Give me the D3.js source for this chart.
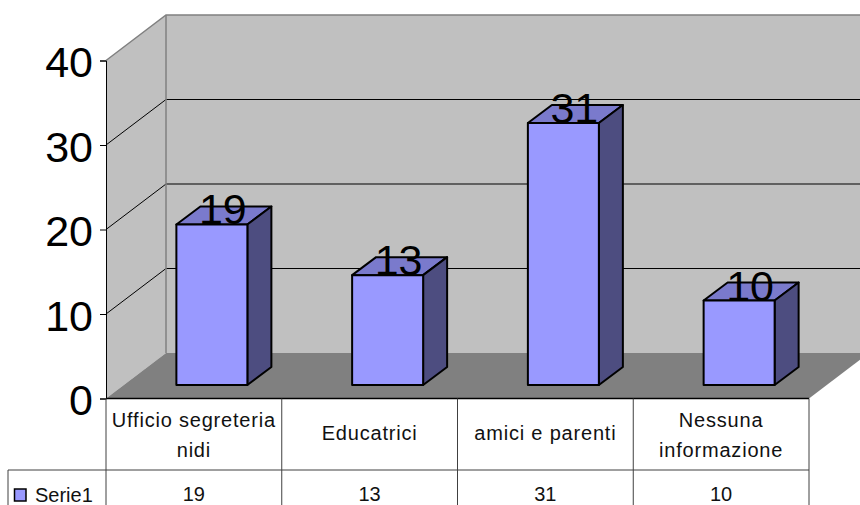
<!DOCTYPE html>
<html>
<head>
<meta charset="utf-8">
<script src="https://cdn.jsdelivr.net/npm/d3@7"></script>
<style>
  html, body { margin: 0; padding: 0; background: #fff; }
  svg { display: block; font-family: "Liberation Sans", Arial, sans-serif; }
</style>
</head>
<body>
<div id="chart"></div>
<script>
const categories = ['Ufficio segreteria nidi', 'Educatrici', 'amici e parenti', 'Nessuna informazione'];
const categoryLines = [['Ufficio segreteria', 'nidi'], ['Educatrici'], ['amici e parenti'], ['Nessuna', 'informazione']];
const seriesName = 'Serie1';
const values = [19, 13, 31, 10];
const yTicks = [0, 10, 20, 30, 40];

const width = 860, height = 505;
const svg = d3.select('#chart').append('svg').attr('width', width).attr('height', height);

// Front plane scales; the depth vector shifts things onto the back wall.
const x = d3.scaleBand().domain(categories).range([106, 809]);
const y = d3.scaleLinear().domain([0, 40]).range([398.5, 60.5]);
const wall = { dx: 60, dy: -45.5 };
const barDepth = { dx: 24, dy: -18 };
const barInset = { dx: 18, dy: -13.5 };
const barW = 71;

const pts = a => a.map(p => p.join(',')).join(' ');
const x0 = x.range()[0], x1 = x.range()[1];
const yBot = y(0), yTop = y(40);

// Walls and floor
svg.append('polygon').attr('fill', '#c0c0c0').attr('points', pts([
  [x0, yBot], [x0, yTop], [x0 + wall.dx, yTop + wall.dy], [x1 + wall.dx, yTop + wall.dy],
  [x1 + wall.dx, yBot + wall.dy], [x0 + wall.dx, yBot + wall.dy]
]));
svg.append('polygon').attr('fill', '#808080').attr('points', pts([
  [x0, yBot], [x0 + wall.dx, yBot + wall.dy], [x1 + wall.dx, yBot + wall.dy], [x1, yBot]
]));

// Gridlines along side wall and back wall
const grid = svg.append('g');
yTicks.slice(1, -1).forEach(t => {
  grid.append('polyline').attr('fill', 'none').attr('stroke', '#000').attr('stroke-width', 1)
    .attr('points', pts([[x0, y(t)], [x0 + wall.dx, y(t) + wall.dy], [x1 + wall.dx, y(t) + wall.dy]]));
});

// Wall outline
svg.append('polyline').attr('fill', 'none').attr('stroke', '#808080').attr('stroke-width', 1.5)
  .attr('points', pts([[x0, yTop], [x0 + wall.dx, yTop + wall.dy], [x1 + wall.dx, yTop + wall.dy]]));
svg.append('line').attr('stroke', '#808080').attr('stroke-width', 1.5)
  .attr('x1', x0 + wall.dx).attr('x2', x0 + wall.dx)
  .attr('y1', yTop + wall.dy).attr('y2', yBot + wall.dy);

// Y axis
const axis = svg.append('g').attr('transform', `translate(${x0},0)`)
  .call(d3.axisLeft(y).tickValues(yTicks).tickSize(6).tickPadding(7));
axis.selectAll('path, line').attr('stroke', '#000').attr('stroke-width', 1);
axis.selectAll('text').attr('font-size', 43).attr('fill', '#000').attr('dy', '0.38em')
  .attr('font-family', '"Liberation Sans", Arial, sans-serif');

// Bottom front edge
svg.append('line').attr('stroke', '#000').attr('stroke-width', 1.5)
  .attr('x1', x0).attr('x2', x1).attr('y1', yBot).attr('y2', yBot);

// Bars
const bars = svg.append('g').selectAll('g').data(values).enter().append('g')
  .attr('stroke', '#000').attr('stroke-width', 2).attr('stroke-linejoin', 'round');
const barLeft = (d, i) => x(categories[i]) + (x.bandwidth() - barW) / 2 + barInset.dx;

bars.append('polygon').attr('fill', '#7a7acc').attr('points', (d, i) => {
  const l = barLeft(d, i), t = y(d) + barInset.dy;
  return pts([[l, t], [l + barDepth.dx, t + barDepth.dy], [l + barW + barDepth.dx, t + barDepth.dy], [l + barW, t]]);
});
bars.append('polygon').attr('fill', '#4d4d80').attr('points', (d, i) => {
  const l = barLeft(d, i) + barW, t = y(d) + barInset.dy, b = y(0) + barInset.dy;
  return pts([[l, t], [l + barDepth.dx, t + barDepth.dy], [l + barDepth.dx, b + barDepth.dy], [l, b]]);
});
bars.append('rect').attr('fill', '#9999ff')
  .attr('x', barLeft).attr('width', barW)
  .attr('y', d => y(d) + barInset.dy).attr('height', d => y(0) - y(d));

// Value labels
svg.append('g').selectAll('text').data(values).enter().append('text')
  .attr('x', (d, i) => barLeft(d, i) + barW / 2 + barDepth.dx / 2 - 1)
  .attr('y', d => y(d) + barInset.dy)
  .attr('text-anchor', 'middle').attr('font-size', 43).attr('fill', '#000')
  .text(d => d);

// Data table
const rowY = 470;
const table = svg.append('g').attr('stroke', '#404040').attr('stroke-width', 1);
x.domain().forEach(c => {
  table.append('line').attr('x1', x(c)).attr('x2', x(c)).attr('y1', yBot).attr('y2', height);
});
table.append('line').attr('x1', x1).attr('x2', x1).attr('y1', yBot).attr('y2', height);
table.append('line').attr('x1', 8).attr('x2', x1).attr('y1', rowY).attr('y2', rowY);
table.append('line').attr('x1', 8).attr('x2', 8).attr('y1', rowY).attr('y2', height);

const catText = svg.append('g').attr('font-size', 20).attr('fill', '#111')
  .attr('letter-spacing', 0.8).attr('text-anchor', 'middle');
categoryLines.forEach((lines, i) => {
  const cx = x(categories[i]) + x.bandwidth() / 2;
  const y0 = lines.length === 1 ? 440 : 427;
  lines.forEach((s, j) => {
    catText.append('text').attr('x', cx).attr('y', y0 + j * 30).text(s);
  });
});

svg.append('g').selectAll('text').data(values).enter().append('text')
  .attr('x', (d, i) => x(categories[i]) + x.bandwidth() / 2)
  .attr('y', 501).attr('font-size', 20).attr('fill', '#111').attr('text-anchor', 'middle')
  .text(d => d);

// Legend key
svg.append('rect').attr('x', 14.5).attr('y', 489).attr('width', 11.5).attr('height', 12)
  .attr('fill', '#9999ff').attr('stroke', '#000').attr('stroke-width', 1.5);
svg.append('text').attr('x', 35).attr('y', 502).attr('font-size', 20).attr('fill', '#111').text(seriesName);
</script>
</body>
</html>
